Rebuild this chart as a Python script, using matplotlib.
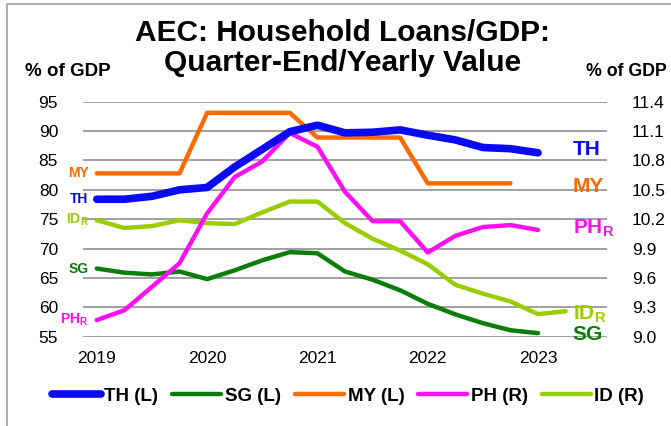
import matplotlib
matplotlib.use("Agg")
import matplotlib.pyplot as plt
from matplotlib.lines import Line2D
from matplotlib.patches import Rectangle

plt.rcParams['font.family'] = ['Liberation Sans', 'DejaVu Sans']
plt.rcParams['mathtext.fontset'] = 'custom'
plt.rcParams['mathtext.rm'] = 'Liberation Sans'
plt.rcParams['mathtext.bf'] = 'Liberation Sans:bold'

# ---- data (quarterly, index 0 = 2019) ----
year_labels = ["2019", "2020", "2021", "2022", "2023"]
th = [78.4, 78.4, 78.9, 80.0, 80.4, 83.9, 86.9, 89.9, 91.0, 89.7, 89.8, 90.2, 89.3, 88.5, 87.2, 87.0, 86.3]
sg = [66.6, 65.9, 65.6, 66.1, 64.8, 66.3, 68.0, 69.4, 69.2, 66.1, 64.7, 62.9, 60.6, 58.8, 57.3, 56.1, 55.6]
my = [82.8, 82.8, 82.8, 82.8, 93.1, 93.1, 93.1, 93.1, 88.9, 88.9, 88.9, 88.9, 81.1, 81.1, 81.1, 81.1]
ph = [9.17, 9.27, 9.51, 9.75, 10.26, 10.63, 10.79, 11.08, 10.94, 10.48, 10.18, 10.18, 9.86, 10.03, 10.12, 10.14, 10.09]
idn = [10.19, 10.11, 10.13, 10.19, 10.16, 10.15, 10.27, 10.38, 10.38, 10.16, 10.00, 9.88, 9.74, 9.53, 9.44, 9.36, 9.23, 9.26]
left_ticks = [55, 60, 65, 70, 75, 80, 85, 90, 95]
right_ticks = [9.0, 9.3, 9.6, 9.9, 10.2, 10.5, 10.8, 11.1, 11.4]

C_TH = "#0A0AF5"
C_SG = "#0A7D0A"
C_MY = "#FF6A00"
C_PH = "#FF10F0"
C_ID = "#9ACD00"

fig = plt.figure(figsize=(6.71, 4.26), dpi=100)
fig.patches.append(Rectangle((7/671, -0.1), 1.2, 1 - 4/426 + 0.1, transform=fig.transFigure,
                             fill=False, edgecolor="#A0A0A0", lw=1.2))

ax = fig.add_axes([83/671, 1 - 336.7/426, (607 - 83)/671, (336.7 - 101.7)/426])
ax2 = ax.twinx()

ax.set_xlim(-0.5, 18.5)
ax.set_ylim(55, 95)
ax2.set_ylim(9.0, 11.4)

for s in ax.spines.values():
    s.set_visible(False)
for s in ax2.spines.values():
    s.set_visible(False)

ax.set_yticks(left_ticks)
ax.set_yticklabels([str(t) for t in left_ticks])
ax2.set_yticks(right_ticks)
ax2.set_yticklabels([f"{t:.1f}" for t in right_ticks])
ax.set_xticks([0, 4, 8, 12, 16])
ax.set_xticklabels(year_labels)
ax.tick_params(axis='y', length=0, pad=18, labelsize=12.5)
ax2.tick_params(axis='y', length=0, pad=18, labelsize=12.5)
ax.tick_params(axis='x', length=0, pad=10, labelsize=12.5)
ax.grid(axis='y', color="#A0A0A0", lw=1.4)
ax.set_axisbelow(True)

ax.plot(range(len(sg)), sg, color=C_SG, lw=3.2, solid_capstyle='round', zorder=3)
ax.plot(range(len(my)), my, color=C_MY, lw=3.2, solid_capstyle='round', zorder=3)
ax2.plot(range(len(idn)), idn, color=C_ID, lw=3.2, solid_capstyle='round', clip_on=False, zorder=3)
ax2.plot(range(len(ph)), ph, color=C_PH, lw=3.2, solid_capstyle='round', clip_on=False, zorder=3)
ax2.plot(range(len(th)), [9.0 + (v - 55) * 0.06 for v in th], color=C_TH, lw=5.5,
         solid_capstyle='round', zorder=4)

# left-end labels
def lft(y, txt, c):
    ax.annotate(txt, xy=(0, y), xytext=(-6, 0), textcoords='offset points', ha='right', va='center',
                color=c, fontsize=10, fontweight='bold')

lft(my[0], "MY", C_MY)
lft(th[0], "TH", C_TH)
lft(55 + (idn[0] - 9.0) / 0.06, r"$\mathbf{ID}_{\mathbf{R}}$", C_ID)
lft(sg[0], "SG", C_SG)
lft(55 + (ph[0] - 9.0) / 0.06, r"$\mathbf{PH}_{\mathbf{R}}$", C_PH)

# right-end labels
def rgt(y, txt, c, va='center'):
    ax.text(17.25, y, txt, ha='left', va=va, color=c, fontsize=15, fontweight='bold', clip_on=False)

rgt(86.8, "TH", C_TH)
rgt(80.6, "MY", C_MY)
rgt(73.4, r"$\mathbf{PH}_{\mathbf{R}}$", C_PH)
rgt(58.0, r"$\mathbf{ID}_{\mathbf{R}}$", C_ID, va='baseline')
rgt(55.4, "SG", C_SG)

fig.text(343/671, 1 - 19/426, "AEC: Household Loans/GDP:\nQuarter-End/Yearly Value", ha='center', va='top',
         fontsize=21.5, fontweight='bold', linespacing=1.1)
fig.text(25/671, 1 - 72/426, "% of GDP", ha='left', va='center', fontsize=13.5, fontweight='bold')
fig.text(586/671, 1 - 72/426, "% of GDP", ha='left', va='center', fontsize=12.8, fontweight='bold')

handles = [Line2D([], [], color=C_TH, lw=5.5, solid_capstyle='round'),
           Line2D([], [], color=C_SG, lw=3.2, solid_capstyle='round'),
           Line2D([], [], color=C_MY, lw=3.2, solid_capstyle='round'),
           Line2D([], [], color=C_PH, lw=3.2, solid_capstyle='round'),
           Line2D([], [], color=C_ID, lw=3.2, solid_capstyle='round')]
labels = ["TH (L)", "SG (L)", "MY (L)", "PH (R)", "ID (R)"]
fig.legend(handles, labels, loc='center', bbox_to_anchor=(348/671, 1 - 396/426), ncol=5, frameon=False,
           prop={'weight': 'bold', 'size': 13.5}, handlelength=2.6, handletextpad=0.2, columnspacing=0.75)

fig.savefig("out.png", dpi=100)
